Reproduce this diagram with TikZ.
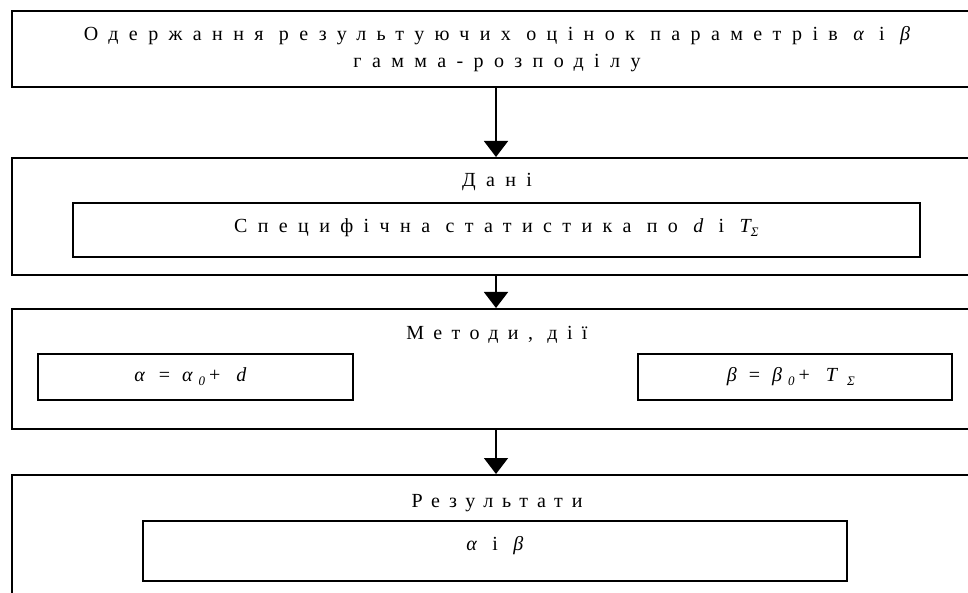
\documentclass[tikz,border=0pt]{standalone}
\usepackage{fontspec}
\setmainfont{Liberation Serif}[LetterSpace=52]
\usetikzlibrary{arrows.meta}
% lowered italic index for the formulas
\newcommand\lowidx[1]{\raisebox{-0.45ex}{\fontsize{13}{13}\selectfont\itshape #1}}
% formulas are set without letter spacing, their gaps are given explicitly
\newcommand\formula[1]{{\addfontfeature{LetterSpace=0}#1}}

\begin{document}
\begin{tikzpicture}[x=1pt,y=-1pt,
  frame/.style={draw, line width=1.6pt, inner sep=0pt, anchor=north west},
  caption/.style={font=\fontsize{20}{27}\selectfont, inner sep=0pt, align=center},
  flow/.style={line width=1.6pt, -{Triangle[width=24pt,length=16pt]}}]
\useasboundingbox (0,0) rectangle (968,593);
\clip (0,0) rectangle (968,593);

% outer blocks (they run on past the right and lower edges)
\node[frame, minimum width=1000pt, minimum height=76pt]  (goal) at (11,10)  {};
\node[frame, minimum width=1000pt, minimum height=117pt] (data) at (11,157) {};
\node[frame, minimum width=1000pt, minimum height=120pt] (meth) at (11,308) {};
\node[frame, minimum width=1000pt, minimum height=200pt] (res)  at (11,474) {};

% inner blocks
\node[frame, minimum width=847pt, minimum height=54pt] (stat) at (72,202)  {};
\node[frame, minimum width=315pt, minimum height=46pt] (fa)   at (37,353)  {};
\node[frame, minimum width=314pt, minimum height=46pt] (fb)   at (637,353) {};
\node[frame, minimum width=704pt, minimum height=60pt] (ab)   at (142,520) {};

% texts
\node[caption] (goaltxt) at (497,49)
  {Одержання результуючих оцінок параметрів {\itshape α} і {\itshape β}\\гамма-розподілу};
\node[caption] (datatxt) at (497,182) {Дані};
\node[caption] (stattxt) at ([yshift=2pt]stat.center)
  {Специфічна статистика по {\itshape d} і {\itshape T}\lowidx{Σ}};
\node[caption] (methtxt) at (497,335) {\addfontfeature{LetterSpace=47}Методи, дії};
\node[caption] (fatxt) at ([xshift=-5pt]fa.center)
  {\formula{{\itshape α}\hspace{14pt}=\hspace{12pt}{\itshape α}\hspace{6pt}\lowidx{0}\hspace{4pt}+\hspace{16pt}{\itshape d}}};
\node[caption] (fbtxt) at ([xshift=-4pt]fb.center)
  {\formula{{\itshape β}\hspace{12pt}=\hspace{12pt}{\itshape β}\hspace{6pt}\lowidx{0}\hspace{4pt}+\hspace{16pt}{\itshape T}\hspace{10pt}\lowidx{Σ}}};
\node[caption] (restxt) at (497,503) {\addfontfeature{LetterSpace=44}Результати};
\node[caption] (abtxt) at ([yshift=5pt]ab.center) {{\itshape α} і {\itshape β}};

% connectors along the common axis
\coordinate (axis) at (496,0);
\draw[flow] (goal.south -| axis) -- (data.north -| axis);
\draw[flow] (data.south -| axis) -- (meth.north -| axis);
\draw[flow] (meth.south -| axis) -- (res.north -| axis);
\end{tikzpicture}
\end{document}
